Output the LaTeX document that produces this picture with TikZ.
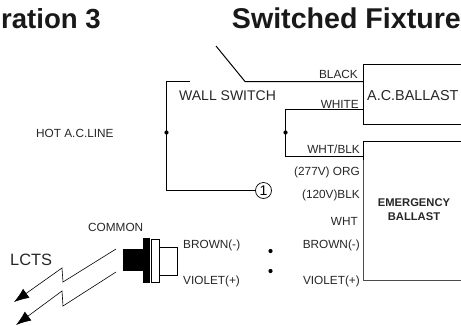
\documentclass[tikz,border=0pt]{standalone}
\usepackage{fontspec}
\setmainfont{Liberation Sans}
\usetikzlibrary{arrows.meta}
\newcommand{\fs}[1]{\fontsize{#1}{#1}\selectfont}
\tikzset{
  wire/.style={line width=1pt,black},
  lbl/.style={inner sep=0pt,text=black!85,font=\fs{11.8}},
  lblr/.style={lbl,anchor=base east},
  lbll/.style={lbl,anchor=base west},
  jdot/.style={circle,fill=black,inner sep=0pt,minimum size=4.2pt},
  bolt/.style={line width=0.6pt,-{Latex[length=15pt,width=11pt]}},
  title/.style={inner sep=0pt,anchor=base east,font=\fs{28.6}\bfseries,text=black!90},
}
\begin{document}
\begin{tikzpicture}[x=1pt,y=-1pt]
\useasboundingbox (0,0) rectangle (461,325);
% titles
\node[title,font=\fs{27.6}\bfseries] (t1) at (101,28) {ration 3};
\node[title] (t2) at (461,28) {Switched Fixture};
% coordinates
\coordinate (bladeTop) at (216,46);
\coordinate (bladePivot) at (245,81.5);
\coordinate (swL) at (190,81.5);
\coordinate (swC) at (166.5,81.5);
\coordinate (acBlack) at (363.5,81.5);
\coordinate (acWhite) at (363.5,109.5);
\coordinate (emWht) at (363.5,156.5);
\coordinate (wA) at (285.5,109.5);
\coordinate (wB) at (285.5,156.5);
\node[jdot] (j1) at (166.5,132.5) {};
\node[jdot] (j2) at (285.5,132.5) {};
\node[jdot] (d1) at (270.5,251) {};
\node[jdot] (d2) at (270.5,271) {};
\node[circle,draw,line width=0.7pt,minimum size=16pt,inner sep=0pt,font=\fs{14}] (c1) at (263.5,190.5) {1};
% ballast boxes
\draw[wire] (461,64.5) -- (363.5,64.5) -- (363.5,124.5) -- (461,124.5);
\draw[wire] (461,141.5) -- (363.5,141.5) -- (363.5,160);
\draw[line width=1.2pt,black!70] (363.5,160) -- (363.5,280.5) -- (461,280.5);
% wiring
\draw[wire] (bladeTop) -- (bladePivot) -- (acBlack);
\draw[wire] (swL) -- (swC) -- (166.5,190.5) -- (c1);
\draw[wire] (acWhite) -- (wA) -- (wB) -- (emWht);
% labels
\node[lblr] (l1) at (358,78) {BLACK};
\node[lblr] (l2) at (359,108) {WHITE};
\node[lblr] (l3) at (360,153) {WHT/BLK};
\node[lblr] (l4) at (360,175) {(277V) ORG};
\node[lblr] (l5) at (360,198) {(120V)BLK};
\node[lblr] (l6) at (358,225) {WHT};
\node[lblr] (l7) at (360,248) {BROWN(-)};
\node[lblr] (l8) at (360,284) {VIOLET(+)};
\node[lbll,font=\fs{14}] (ws) at (179,100) {WALL SWITCH};
\node[lbll,font=\fs{14.4}] (ac) at (367,100) {A.C.BALLAST};
\node[lbll] (hot) at (36,137) {HOT A.C.LINE};
\node[lbll] (com) at (88,231) {COMMON};
\node[lbll,font=\fs{16.4}] (lc) at (10,265) {LCTS};
\node[lbll] (br) at (183,248) {BROWN(-)};
\node[lbll] (vi) at (183,284) {VIOLET(+)};
\node[inner sep=0pt,anchor=base,font=\fs{11.2}\bfseries,text=black!85] (e1) at (414,206) {EMERGENCY};
\node[inner sep=0pt,anchor=base,font=\fs{11.2}\bfseries,text=black!85] (e2) at (414,220) {BALLAST};
% LCTS device
\fill[black] (123,249) rectangle (143,271);
\fill[black] (143,238) rectangle (150,283);
\draw[line width=0.7pt,fill=white] (151,239) rectangle (159,282);
\draw[line width=0.7pt,fill=white] (159,247) rectangle (177,275);
% signal bolts
\draw[bolt] (116,249) -- (63,282) -- (62,268) -- (14,302);
\draw[bolt] (116,272) -- (63,306) -- (62,291) -- (16,325);
\end{tikzpicture}
\end{document}
